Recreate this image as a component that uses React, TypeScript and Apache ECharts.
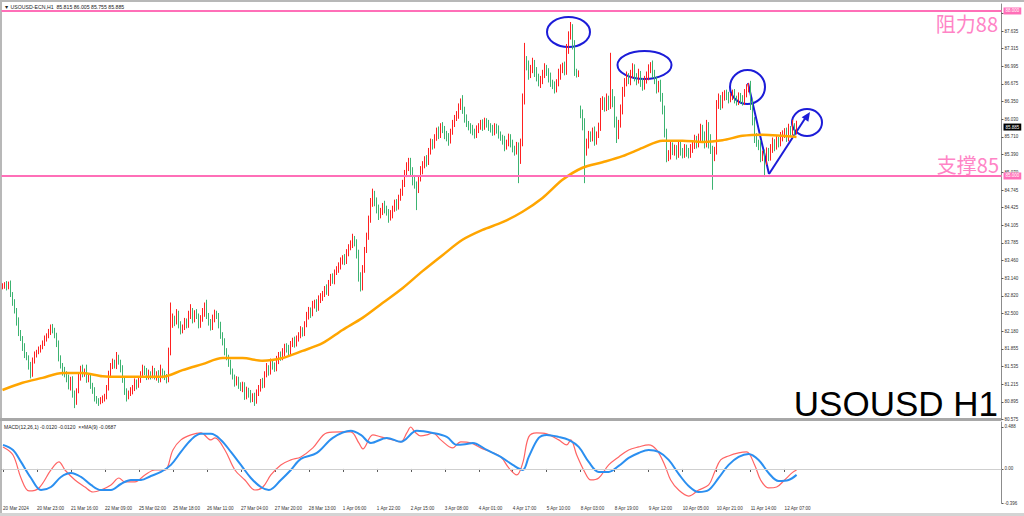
import React, { useEffect, useRef } from "react";
import * as echarts from "echarts";

// ---- tick labels ----
const tickLabels = [
  "20 Mar 2024", "20 Mar 23:00", "21 Mar 16:00", "22 Mar 09:00", "25 Mar 02:00", "25 Mar 18:00",
  "26 Mar 11:00", "27 Mar 04:00", "27 Mar 20:00", "28 Mar 13:00", "1 Apr 06:00", "1 Apr 22:00",
  "2 Apr 15:00", "3 Apr 08:00", "4 Apr 01:00", "4 Apr 17:00", "5 Apr 10:00", "8 Apr 03:00",
  "8 Apr 19:00", "9 Apr 12:00", "10 Apr 05:00", "10 Apr 21:00", "11 Apr 14:00", "12 Apr 07:00",
];
const barsPerLabel = 17;
const totalSlots = 500;

const priceTicks = [
  87.955, 87.635, 87.315, 86.995, 86.675, 86.35, 86.03, 85.71, 85.39, 85.07, 84.745, 84.425,
  84.105, 83.785, 83.46, 83.14, 82.82, 82.5, 82.18, 81.855, 81.535, 81.215, 80.895, 80.575,
];
// the top tick's label sits under the 88.000 level tag
const hiddenPriceLabels = [87.955];
const macdTicks = [0.488, 0, -0.396];

// ---- hourly closes (17 bars per label interval) ----
const closeGroups = [
  [83.00, 83.03, 82.98, 83.05, 82.85, 82.70, 82.55, 82.35, 82.15, 82.05, 81.90, 81.75, 81.70, 81.55, 81.40, 81.65, 81.75],
  [81.80, 81.85, 81.90, 81.95, 82.05, 82.10, 82.15, 82.25, 82.20, 82.10, 81.95, 81.70, 81.55, 81.45, 81.40, 81.35, 81.20],
  [81.30, 81.05, 80.90, 81.10, 81.35, 81.50, 81.40, 81.45, 81.30, 81.35, 81.20, 81.10, 80.95, 80.92, 80.90, 80.93, 80.95],
  [81.00, 81.15, 81.40, 81.55, 81.60, 81.55, 81.70, 81.62, 81.50, 81.30, 81.10, 81.00, 81.05, 81.10, 81.15, 81.25, 81.20],
  [81.30, 81.40, 81.50, 81.45, 81.35, 81.40, 81.38, 81.45, 81.35, 81.40, 81.30, 81.45, 81.40, 81.35, 81.30, 81.80, 82.30],
  [82.40, 82.35, 82.50, 82.30, 82.20, 82.25, 82.35, 82.30, 82.45, 82.55, 82.40, 82.50, 82.45, 82.30, 82.40, 82.50, 82.55],
  [82.45, 82.35, 82.25, 82.40, 82.50, 82.45, 82.30, 82.10, 82.00, 81.80, 81.70, 81.60, 81.45, 81.35, 81.25, 81.30, 81.20],
  [81.15, 81.20, 81.00, 81.10, 81.05, 80.95, 81.00, 80.92, 81.05, 81.15, 81.25, 81.20, 81.40, 81.50, 81.45, 81.60, 81.55],
  [81.50, 81.65, 81.75, 81.70, 81.80, 81.90, 81.85, 81.80, 81.95, 82.00, 81.95, 82.05, 82.10, 82.20, 82.15, 82.30, 82.45],
  [82.55, 82.50, 82.65, 82.70, 82.60, 82.75, 82.80, 82.85, 82.95, 82.90, 83.05, 83.15, 83.10, 83.25, 83.30, 83.35, 83.45],
  [83.50, 83.45, 83.60, 83.70, 83.75, 83.85, 83.80, 83.60, 83.20, 83.00, 83.30, 83.65, 83.90, 84.20, 84.50, 84.65, 84.55],
  [84.40, 84.30, 84.35, 84.45, 84.40, 84.35, 84.25, 84.30, 84.40, 84.50, 84.45, 84.60, 84.70, 84.85, 85.05, 85.15, 85.25],
  [85.10, 84.95, 84.85, 84.75, 84.95, 85.10, 85.20, 85.30, 85.25, 85.45, 85.60, 85.55, 85.70, 85.80, 85.75, 85.90, 85.85],
  [85.75, 85.70, 85.65, 85.80, 85.95, 86.05, 86.10, 86.25, 86.35, 86.20, 86.05, 85.95, 85.90, 85.85, 85.80, 85.75, 85.85],
  [85.90, 85.95, 85.90, 86.00, 85.95, 85.90, 85.85, 85.80, 85.90, 85.85, 85.75, 85.70, 85.65, 85.55, 85.60, 85.70, 85.60],
  [85.50, 85.45, 85.55, 85.30, 85.60, 86.40, 87.10, 87.00, 86.85, 86.95, 87.05, 86.90, 86.80, 86.70, 86.75, 86.85, 86.95],
  [86.90, 86.80, 86.70, 86.65, 86.60, 86.70, 86.85, 86.95, 87.00, 86.90, 87.30, 87.55, 87.70, 87.40, 86.90, 86.85, 86.88],
  [86.15, 85.95, 85.45, 85.60, 85.75, 85.70, 85.80, 85.65, 85.75, 85.90, 86.30, 86.35, 86.25, 86.40, 86.30, 86.50, 86.35],
  [86.00, 85.75, 85.95, 86.20, 86.50, 86.70, 86.80, 86.75, 86.85, 86.95, 86.80, 86.75, 86.85, 86.70, 86.65, 86.75, 86.80],
  [86.95, 87.00, 86.85, 86.75, 86.60, 86.65, 86.45, 86.20, 85.80, 85.35, 85.40, 85.55, 85.45, 85.50, 85.40, 85.55, 85.45],
  [85.40, 85.50, 85.45, 85.40, 85.50, 85.55, 85.65, 85.60, 85.70, 85.85, 85.75, 85.60, 85.90, 85.70, 85.50, 85.35, 85.45],
  [86.30, 86.40, 86.30, 86.45, 86.50, 86.45, 86.40, 86.45, 86.50, 86.40, 86.35, 86.45, 86.40, 86.35, 86.50, 86.60, 86.65],
  [86.30, 86.00, 85.70, 85.60, 85.55, 85.35, 85.40, 85.30, 85.45, 85.35, 85.50, 85.60, 85.55, 85.65, 85.60, 85.70, 85.75],
  [85.80, 85.70, 85.85, 85.80, 85.90, 85.815, 85.885],
];

// wick above the body top, per bar
const upperWickGroups = [
  [.05, .04, .06, .03, .05, .04, .06, .05, .08, .05, .04, .06, .05, .04, .07, .05, .06],
  [.04, .05, .03, .06, .05, .04, .07, .05, .06, .04, .05, .06, .04, .05, .08, .05, .04],
  [.05, .06, .05, .04, .06, .05, .07, .05, .12, .06, .05, .04, .06, .05, .04, .05, .06],
  [.04, .05, .06, .05, .08, .06, .10, .05, .04, .06, .05, .04, .05, .06, .05, .07, .05],
  [.06, .05, .07, .05, .06, .08, .05, .10, .06, .05, .07, .12, .05, .06, .05, .08, .40],
  [.10, .06, .08, .05, .06, .05, .07, .06, .10, .12, .05, .06, .08, .05, .07, .10, .15],
  [.20, .06, .05, .08, .07, .05, .06, .05, .06, .05, .07, .05, .06, .05, .04, .06, .05],
  [.05, .06, .05, .07, .05, .06, .05, .06, .07, .05, .06, .08, .05, .10, .06, .08, .07],
  [.06, .08, .05, .06, .07, .05, .06, .08, .05, .06, .08, .05, .06, .07, .05, .06, .08],
  [.07, .06, .08, .05, .06, .08, .07, .06, .05, .08, .06, .07, .08, .05, .06, .08, .07],
  [.06, .08, .07, .06, .08, .10, .06, .05, .06, .05, .08, .06, .07, .08, .10, .12, .08],
  [.06, .08, .07, .06, .10, .06, .05, .08, .06, .07, .08, .06, .07, .08, .06, .10, .08],
  [.08, .06, .07, .05, .06, .08, .07, .06, .08, .06, .08, .07, .06, .08, .10, .06, .08],
  [.06, .07, .08, .06, .07, .06, .08, .07, .06, .12, .06, .07, .05, .06, .08, .06, .07],
  [.06, .07, .08, .06, .05, .07, .06, .08, .06, .05, .07, .06, .05, .08, .06, .07, .06],
  [.06, .05, .07, .06, .08, .10, .32, .08, .10, .07, .10, .06, .08, .06, .07, .08, .10],
  [.07, .06, .08, .05, .07, .06, .10, .08, .06, .08, .10, .08, .10, .06, .07, .05, .04],
  [.08, .06, .10, .08, .07, .06, .08, .10, .06, .07, .12, .10, .08, .10, .06, .74, .08],
  [.10, .08, .07, .10, .12, .08, .10, .07, .08, .10, .08, .07, .10, .06, .08, .07, .10],
  [.08, .07, .10, .08, .06, .08, .10, .06, .08, .06, .07, .08, .06, .07, .06, .08, .07],
  [.06, .08, .07, .06, .08, .07, .10, .08, .07, .10, .08, .06, .12, .08, .06, .05, .08],
  [.08, .10, .07, .08, .06, .07, .08, .06, .07, .08, .06, .07, .06, .07, .08, .07, .04],
  [.08, .10, .07, .08, .06, .10, .06, .08, .07, .06, .08, .10, .07, .08, .06, .10, .08],
  [.07, .08, .10, .06, .12, .06, .12],
];

// wick below the body bottom, per bar
const lowerWickGroups = [
  [.04, .05, .06, .04, .05, .06, .05, .07, .06, .05, .08, .06, .05, .07, .08, .05, .06],
  [.05, .04, .06, .05, .04, .06, .05, .04, .06, .05, .06, .07, .05, .08, .06, .10, .08],
  [.10, .08, .12, .06, .05, .07, .06, .05, .06, .05, .07, .06, .05, .06, .08, .05, .06],
  [.05, .06, .05, .04, .06, .05, .06, .05, .07, .06, .08, .10, .06, .05, .07, .06, .08],
  [.05, .06, .05, .07, .06, .05, .08, .06, .05, .07, .06, .05, .08, .06, .07, .05, .06],
  [.06, .08, .05, .07, .08, .06, .05, .07, .06, .05, .08, .06, .05, .07, .06, .05, .06],
  [.05, .07, .06, .05, .06, .05, .07, .06, .08, .06, .05, .07, .06, .05, .08, .06, .07],
  [.06, .08, .07, .06, .08, .07, .06, .10, .06, .05, .07, .06, .05, .06, .08, .06, .07],
  [.06, .05, .07, .06, .05, .08, .06, .07, .05, .06, .07, .05, .06, .05, .07, .06, .05],
  [.06, .08, .05, .06, .07, .05, .06, .07, .05, .06, .08, .05, .06, .07, .05, .06, .05],
  [.06, .07, .05, .06, .05, .06, .08, .10, .12, .10, .08, .06, .05, .06, .05, .06, .10],
  [.08, .10, .07, .06, .08, .07, .10, .06, .07, .05, .08, .06, .05, .06, .05, .07, .06],
  [.10, .12, .08, .37, .06, .05, .07, .06, .08, .05, .06, .07, .05, .06, .08, .06, .07],
  [.08, .07, .10, .06, .05, .06, .05, .06, .05, .07, .08, .06, .07, .08, .06, .07, .06],
  [.07, .06, .08, .06, .07, .08, .06, .07, .06, .08, .07, .06, .08, .10, .07, .06, .08],
  [.07, .08, .06, .43, .08, .06, .10, .08, .10, .07, .08, .10, .08, .07, .10, .08, .07],
  [.08, .10, .08, .07, .10, .08, .07, .10, .08, .07, .06, .08, .07, .10, .08, .06, .05],
  [.10, .12, .58, .08, .10, .08, .07, .10, .08, .06, .08, .10, .08, .07, .10, .08, .10],
  [.12, .15, .08, .07, .08, .06, .07, .08, .10, .07, .08, .10, .07, .08, .10, .08, .07],
  [.06, .08, .07, .08, .10, .08, .10, .08, .10, .10, .08, .10, .07, .08, .10, .07, .08],
  [.08, .07, .10, .08, .07, .08, .06, .10, .08, .07, .15, .10, .08, .20, .10, .60, .08],
  [.06, .08, .10, .07, .08, .07, .08, .06, .07, .08, .07, .06, .08, .07, .06, .07, .08],
  [.10, .08, .10, .07, .08, .10, .08, .32, .10, .08, .07, .08, .10, .07, .08, .06, .07],
  [.06, .08, .07, .08, .06, .10, .06],
];

const firstOpen = 82.98;
const sessionOpens: [number, number][] = [[289, 86.2]];

// ---- moving average (bar index, value) ----
const maPoints: [number, number][] = [
  [0, 81.11], [10, 81.24], [20, 81.33], [30, 81.42], [40, 81.42], [50, 81.36], [60, 81.35],
  [70, 81.35], [80, 81.35], [90, 81.47], [100, 81.58], [110, 81.69], [120, 81.69], [130, 81.64],
  [140, 81.69], [150, 81.82], [160, 81.96], [170, 82.2], [180, 82.42], [190, 82.69], [200, 82.96],
  [210, 83.27], [220, 83.56], [230, 83.84], [240, 84.02], [250, 84.16], [260, 84.35], [270, 84.6],
  [280, 84.93], [290, 85.15], [300, 85.25], [310, 85.36], [320, 85.51], [330, 85.64], [340, 85.64],
  [350, 85.62], [360, 85.65], [370, 85.73], [380, 85.75], [390, 85.73], [397, 85.71],
];

// ---- MACD main (red) and its MA(9) (blue) ----
const macdPoints: [number, number][] = [
  [0, 0.256], [5, 0.163], [9, -0.105], [13, -0.256], [18, -0.221], [24, -0.012], [28, 0.082],
  [31, -0.012], [36, -0.128], [41, -0.21], [45, -0.268], [49, -0.245], [54, -0.186], [58, -0.105],
  [61, -0.151], [66, -0.151], [71, -0.07], [76, -0.012], [81, -0.012], [85, 0.221], [89, 0.338],
  [94, 0.396], [99, 0.419], [104, 0.338], [106, 0.361], [111, 0.221], [116, -0.012], [121, -0.128],
  [126, -0.245], [130, -0.21], [134, -0.07], [139, 0.047], [144, 0.105], [149, 0.14], [155, 0.245],
  [162, 0.419], [169, 0.431], [174, 0.431], [178, 0.303], [180, 0.233], [185, 0.396], [189, 0.373],
  [195, 0.338], [199, 0.315], [202, 0.419], [204, 0.488], [206, 0.431], [209, 0.384], [212, 0.396],
  [215, 0.419], [219, 0.338], [225, 0.245], [229, 0.315], [234, 0.303], [239, 0.245], [244, 0.198],
  [249, 0.14], [253, 0.012], [257, -0.07], [260, 0.07], [263, 0.373], [267, 0.419], [272, 0.408],
  [278, 0.338], [282, 0.28], [284, 0.338], [287, 0.163], [291, -0.035], [294, -0.128], [298, -0.105],
  [303, 0.047], [308, 0.14], [313, 0.221], [318, 0.256], [323, 0.28], [327, 0.221], [331, 0.047],
  [334, -0.128], [338, -0.245], [343, -0.315], [348, -0.245], [353, -0.186], [356, -0.035],
  [359, 0.105], [363, 0.151], [368, 0.186], [372, 0.198], [376, 0.047], [379, -0.128], [383, -0.221],
  [387, -0.21], [391, -0.128], [395, -0.04], [397, -0.012],
];
const signalPoints: [number, number][] = [
  [0, 0.28], [5, 0.221], [9, 0.082], [14, -0.105], [19, -0.245], [24, -0.21], [29, -0.093],
  [34, -0.047], [39, -0.093], [44, -0.186], [49, -0.245], [54, -0.245], [59, -0.175], [64, -0.128],
  [69, -0.128], [74, -0.082], [79, -0.035], [84, 0.047], [89, 0.198], [94, 0.338], [99, 0.408],
  [104, 0.408], [109, 0.338], [114, 0.198], [119, 0.047], [124, -0.105], [129, -0.21], [133, -0.245],
  [139, -0.128], [144, -0.012], [149, 0.117], [157, 0.186], [165, 0.361], [174, 0.443], [179, 0.396],
  [184, 0.303], [192, 0.361], [199, 0.315], [207, 0.443], [215, 0.419], [222, 0.373], [227, 0.28],
  [232, 0.291], [235, 0.303], [242, 0.221], [249, 0.14], [255, 0.047], [260, -0.012], [263, 0.14],
  [268, 0.361], [272, 0.396], [278, 0.373], [283, 0.338], [288, 0.256], [293, 0.082], [298, -0.035],
  [303, -0.035], [308, 0.035], [313, 0.128], [318, 0.186], [323, 0.221], [328, 0.198], [333, 0.105],
  [338, -0.058], [343, -0.198], [348, -0.268], [353, -0.245], [358, -0.105], [363, 0.047],
  [368, 0.14], [373, 0.175], [378, 0.105], [383, -0.047], [388, -0.14], [393, -0.128], [397, -0.069],
];

const levels = [88, 85];
const lastPrice = 85.885;

const headerText = "\u25BC USOUSD-ECN,H1  85.815 86.005 85.755 85.885";
const macdHeader = "MACD(12,26,1) -0.0120 -0.0120  \u00D7\u00D7MA(9) -0.0687";

const UP = "#ff2020";
const DOWN = "#3cb371";
const PINK = "#ff6fb8";
const PINK_TEXT = "#ff84c6";
const BLUE = "#1c1cd8";

function buildCandles() {
  const closes = closeGroups.flat();
  const ups = upperWickGroups.flat();
  const lows = lowerWickGroups.flat();
  const gap = new Map(sessionOpens);
  const r = (v: number) => Math.round(v * 1000) / 1000;
  return closes.map((c, i) => {
    const o = gap.has(i) ? (gap.get(i) as number) : i === 0 ? firstOpen : closes[i - 1];
    const hi = Math.max(o, c) + (ups[i] ?? 0.05);
    const lo = Math.min(o, c) - (lows[i] ?? 0.05);
    return [r(o), r(c), r(lo), r(hi)];
  });
}

function arrowHead(x0: number, y0: number, x1: number, y1: number, len: number, half: number) {
  const dx = x1 - x0, dy = y1 - y0;
  const L = Math.hypot(dx, dy);
  const ux = dx / L, uy = dy / L;
  const bx = x1 - ux * len, by = y1 - uy * len;
  return [[x1, y1], [bx - uy * half, by + ux * half], [bx + uy * half, by - ux * half]];
}

export default function App() {
  const ref = useRef<HTMLDivElement>(null);
  useEffect(() => {
    document.body.style.margin = "0";
    if (!ref.current) return;
    const chart = echarts.init(ref.current, null, { renderer: "svg" });
    const cats = Array.from({ length: totalSlots }, (_, i) => String(i));
    const showTick = (idx: number) => idx % barsPerLabel === 0 && idx / barsPerLabel < tickLabels.length;
    const tinyFont = "Liberation Sans";

    const option: any = {
      animation: false,
      backgroundColor: "#ffffff",
      grid: [
        { left: 1.5, right: 22.5, top: 4, height: 416 },
        { left: 1.5, right: 22.5, top: 422, height: 81 },
      ],
      xAxis: [
        {
          type: "category", gridIndex: 0, data: cats, boundaryGap: true,
          axisLine: { show: false }, axisTick: { show: false }, axisLabel: { show: false },
          splitLine: { show: false },
        },
        {
          type: "category", gridIndex: 1, data: cats, boundaryGap: true,
          axisLine: { show: true, lineStyle: { color: "#8c8c8c", width: 1 } },
          axisTick: {
            show: true, alignWithLabel: true, length: 3,
            interval: (idx: number) => showTick(idx),
            lineStyle: { color: "#555" },
          },
          axisLabel: {
            interval: (idx: number) => showTick(idx),
            formatter: (_v: string, idx: number) => tickLabels[idx / barsPerLabel] ?? "",
            align: "left", margin: 3, fontSize: 4.6, color: "#333", fontFamily: tinyFont,
          },
          splitLine: { show: false },
        },
      ],
      yAxis: [
        {
          type: "value", gridIndex: 0, position: "right", min: 80.564, max: 88.127,
          axisLine: { show: true, lineStyle: { color: "#8c8c8c", width: 1 } },
          axisTick: { show: true, customValues: priceTicks, length: 2, lineStyle: { color: "#555" } },
          axisLabel: {
            customValues: priceTicks.filter((v) => !hiddenPriceLabels.includes(v)),
            formatter: (v: number) => v.toFixed(3),
            fontSize: 4.5, color: "#333", margin: 3, fontFamily: tinyFont,
          },
          splitLine: { show: false },
        },
        {
          type: "value", gridIndex: 1, position: "right", min: -0.396, max: 0.546,
          axisLine: { show: true, lineStyle: { color: "#8c8c8c", width: 1 } },
          axisTick: { show: true, customValues: macdTicks, length: 2, lineStyle: { color: "#555" } },
          axisLabel: {
            customValues: macdTicks, formatter: (v: number) => (v === 0 ? "0.00" : v.toFixed(3)),
            fontSize: 4.5, color: "#333", margin: 3, fontFamily: tinyFont,
          },
          splitLine: { show: false },
        },
      ],
      series: [
        {
          type: "candlestick", xAxisIndex: 0, yAxisIndex: 0, data: buildCandles(),
          barWidth: 0.4, silent: true,
          itemStyle: { color: UP, color0: DOWN, borderColor: UP, borderColor0: DOWN, borderWidth: 1 },
          markLine: {
            silent: true, symbol: "none",
            data: [
              ...levels.map((v) => ({
                yAxis: v,
                lineStyle: { color: PINK, width: 2, type: "solid" },
                label: {
                  show: true, position: "end", distance: 2, formatter: v.toFixed(3),
                  color: "#fff", backgroundColor: PINK, fontSize: 4.5, padding: [1, 2, 1, 2],
                  fontFamily: tinyFont,
                },
              })),
              {
                yAxis: lastPrice,
                lineStyle: { color: "transparent", width: 0 },
                label: {
                  show: true, position: "end", distance: 2, formatter: lastPrice.toFixed(3),
                  color: "#fff", backgroundColor: "#000", fontSize: 4.5, padding: [1, 2, 1, 2],
                  fontFamily: tinyFont,
                },
              },
            ],
          },
        },
        {
          type: "line", xAxisIndex: 0, yAxisIndex: 0, data: maPoints, smooth: 0.3,
          showSymbol: false, silent: true, lineStyle: { color: "#ffa500", width: 2.5 },
        },
        {
          type: "line", xAxisIndex: 1, yAxisIndex: 1, data: macdPoints, smooth: 0.35,
          showSymbol: false, silent: true, lineStyle: { color: "#ff6464", width: 1.2 },
          markLine: {
            silent: true, symbol: "none", label: { show: false },
            lineStyle: { color: "#cfcfcf", width: 1, type: "solid" },
            data: [{ yAxis: 0 }],
          },
        },
        {
          type: "line", xAxisIndex: 1, yAxisIndex: 1, data: signalPoints, smooth: 0.35,
          showSymbol: false, silent: true, lineStyle: { color: "#2b8ff0", width: 2 },
        },
      ],
      graphic: [
        { type: "rect", shape: { x: 0, y: 0, width: 1024, height: 2 }, style: { fill: "#b8b8b8" }, silent: true },
        { type: "rect", shape: { x: 0, y: 0, width: 2, height: 516 }, style: { fill: "#b8b8b8" }, silent: true },
        { type: "rect", shape: { x: 0, y: 513, width: 1024, height: 3 }, style: { fill: "#d4d4d4" }, silent: true },
        { type: "rect", shape: { x: 0, y: 418, width: 1001, height: 3 }, style: { fill: "#a8a8a8" }, silent: true },
        {
          type: "text", x: 4, y: 4,
          style: { text: headerText, fontSize: 5.2, fill: "#222", fontFamily: tinyFont, textVerticalAlign: "top" },
          silent: true,
        },
        {
          type: "text", x: 4, y: 424,
          style: { text: macdHeader, fontSize: 5, fill: "#222", fontFamily: tinyFont, textVerticalAlign: "top" },
          silent: true,
        },
        {
          type: "text", x: 998, y: 23,
          style: {
            text: "阻力88", fontSize: 20, fill: PINK_TEXT, fontFamily: "Noto Sans CJK SC",
            textAlign: "right", textVerticalAlign: "middle",
          },
          silent: true,
        },
        {
          type: "text", x: 999, y: 164,
          style: {
            text: "支撑85", fontSize: 20, fill: PINK_TEXT, fontFamily: "Noto Sans CJK SC",
            textAlign: "right", textVerticalAlign: "middle",
          },
          silent: true,
        },
        {
          type: "text", x: 998, y: 403,
          style: {
            text: "USOUSD H1", fontSize: 35, fill: "#000", fontFamily: "Liberation Sans",
            textAlign: "right", textVerticalAlign: "middle",
          },
          silent: true,
        },
        { type: "ellipse", shape: { cx: 568.5, cy: 32, rx: 21.5, ry: 15 }, style: { fill: "none", stroke: BLUE, lineWidth: 2 }, silent: true },
        { type: "ellipse", shape: { cx: 644.5, cy: 65, rx: 27, ry: 14 }, style: { fill: "none", stroke: BLUE, lineWidth: 2 }, silent: true },
        { type: "ellipse", shape: { cx: 747.5, cy: 87, rx: 17.5, ry: 17 }, style: { fill: "none", stroke: BLUE, lineWidth: 2 }, silent: true },
        { type: "ellipse", shape: { cx: 807, cy: 122.5, rx: 15, ry: 13.5 }, style: { fill: "none", stroke: BLUE, lineWidth: 2 }, silent: true },
        { type: "line", shape: { x1: 748, y1: 83, x2: 769, y2: 174 }, style: { stroke: BLUE, lineWidth: 2 }, silent: true },
        { type: "line", shape: { x1: 769, y1: 174, x2: 806, y2: 117 }, style: { stroke: BLUE, lineWidth: 2 }, silent: true },
        { type: "polygon", shape: { points: arrowHead(769, 174, 810, 112, 9, 4) }, style: { fill: BLUE }, silent: true },
      ],
    };
    chart.setOption(option);
    return () => chart.dispose();
  }, []);
  return (
    <div
      ref={ref}
      style={{ position: "absolute", left: 0, top: 0, width: 1024, height: 516, background: "#fff" }}
    />
  );
}
